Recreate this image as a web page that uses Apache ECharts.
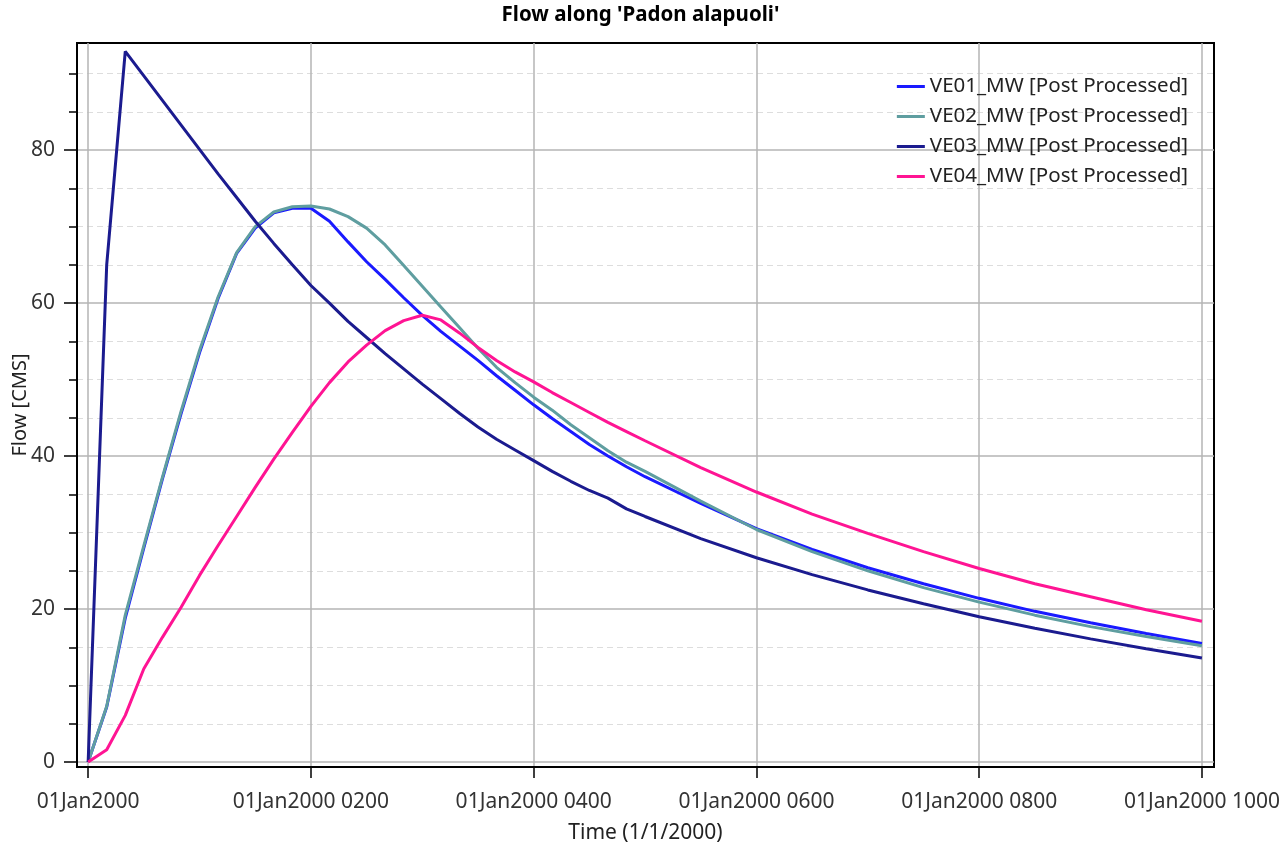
<!DOCTYPE html>
<html>
<head>
<meta charset="utf-8">
<title>Flow along 'Padon alapuoli'</title>
<script src="https://cdn.jsdelivr.net/npm/echarts@6/dist/echarts.min.js"></script>
<style>
    html, body {margin: 0; padding: 0; background: #fff;}
    #chartDiv {width: 1281px; height: 847px;}
</style>
</head>
<body>
<div id="chartDiv"></div>
<script>
// minutes after 01Jan2000 0000
var times = [0, 10, 20, 30, 40, 50, 60, 70, 80, 90, 100, 110, 120, 130, 140, 150, 160, 170, 180, 190,
    200, 210, 220, 230, 240, 250, 260, 270, 280, 290, 300, 330, 360, 390, 420, 450, 480, 510, 540, 570, 600];

var seriesNames = ["VE01_MW [Post Processed]", "VE02_MW [Post Processed]",
    "VE03_MW [Post Processed]", "VE04_MW [Post Processed]"];
var seriesColors = ["#1a1aff", "#5f9ea0", "#1b1b8f", "#ff1493"];

var ve01 = [0, 7.2, 18.8, 28.0, 37.0, 45.5, 53.5, 60.6, 66.5, 69.8, 71.8, 72.4, 72.4, 70.7, 68.0, 65.4, 63.1, 60.7, 58.4, 56.3,
    54.4, 52.5, 50.5, 48.6, 46.7, 44.9, 43.2, 41.5, 40.0, 38.6, 37.3, 33.8, 30.5, 27.8, 25.4, 23.3, 21.4, 19.7, 18.2, 16.8, 15.5];
var ve02 = [0, 7.3, 19.2, 28.3, 37.2, 45.8, 53.8, 60.8, 66.6, 70.0, 71.9, 72.6, 72.7, 72.3, 71.3, 69.8, 67.6, 64.9, 62.2, 59.5,
    56.8, 54.1, 51.6, 49.6, 47.7, 46.0, 44.1, 42.4, 40.7, 39.2, 38.0, 34.1, 30.4, 27.5, 25.0, 22.8, 20.9, 19.2, 17.7, 16.4, 15.2];
var ve03 = [0, 65.0, 92.9, 89.7, 86.5, 83.3, 80.1, 76.9, 73.8, 70.7, 67.8, 65.0, 62.3, 60.0, 57.6, 55.5, 53.4, 51.4, 49.4, 47.5,
    45.6, 43.8, 42.2, 40.8, 39.4, 38.0, 36.7, 35.5, 34.5, 33.1, 32.1, 29.2, 26.7, 24.5, 22.5, 20.7, 19.0, 17.5, 16.1, 14.8, 13.6];
var ve04 = [0, 1.6, 6.1, 12.2, 16.3, 20.2, 24.4, 28.3, 32.1, 35.9, 39.6, 43.1, 46.5, 49.6, 52.3, 54.5, 56.4, 57.7, 58.4, 57.8,
    56.1, 54.2, 52.5, 51.0, 49.7, 48.3, 47.0, 45.7, 44.4, 43.2, 42.0, 38.5, 35.3, 32.4, 29.9, 27.5, 25.3, 23.3, 21.6, 19.9, 18.4];

var xTicks = [0, 120, 240, 360, 480, 600];
var yTicks = [0, 20, 40, 60, 80];

function pad2(n) {
    return (n < 10 ? "0" : "") + n;
}

function timeLabel(value) {
    if (value === 0) {
        return "01Jan2000";
    }
    return "01Jan2000 " + pad2(Math.round(value / 60)) + "00";
}

function buildSeries() {
    var values = [ve01, ve02, ve03, ve04];
    var list = [];
    for (var i = 0; i < values.length; i++) {
        var data = [];
        for (var j = 0; j < times.length; j++) {
            data.push([times[j], values[i][j]]);
        }
        list.push({
            name: seriesNames[i],
            type: 'line',
            showSymbol: false,
            symbol: 'none',
            lineStyle: {width: 3, color: seriesColors[i]},
            itemStyle: {color: seriesColors[i]},
            data: data
        });
    }
    return list;
}

var font = 'Noto Sans';
var chart = echarts.init(document.getElementById("chartDiv"));

var option = {
    animation: false,
    backgroundColor: '#fff',
    title: {
        text: "Flow along 'Padon alapuoli'",
        left: 'center',
        top: 5,
        padding: 0,
        textStyle: {fontFamily: font, fontSize: 20.5, fontWeight: 'bold', color: '#000'}
    },
    legend: {
        orient: 'vertical',
        right: 93,
        top: 76,
        padding: 0,
        icon: 'rect',
        itemWidth: 28,
        itemHeight: 3,
        itemGap: 9,
        textStyle: {fontFamily: font, fontSize: 20.5, color: '#222', lineHeight: 20},
        data: seriesNames
    },
    grid: {
        left: 77,
        right: 67,
        top: 43,
        bottom: 80,
        show: true,
        borderColor: '#000',
        borderWidth: 2,
        containLabel: false,
        outerBoundsMode: 'none'
    },
    xAxis: {
        type: 'value',
        min: -6,
        max: 606.5,
        minInterval: 120,
        maxInterval: 120,
        name: 'Time (1/1/2000)',
        nameLocation: 'middle',
        nameGap: 56,
        nameTextStyle: {fontFamily: font, fontSize: 21, color: '#222'},
        axisLine: {show: true, onZero: false, lineStyle: {color: '#000', width: 2}},
        axisTick: {show: true, length: 11, customValues: xTicks, lineStyle: {color: '#000', width: 1.5}},
        axisLabel: {
            customValues: xTicks,
            margin: 25,
            fontFamily: font,
            fontSize: 21,
            color: '#333',
            formatter: timeLabel
        },
        splitLine: {show: true, lineStyle: {color: '#b4b4b4', width: 1.5}}
    },
    yAxis: {
        type: 'value',
        min: -0.65,
        max: 94,
        minInterval: 20,
        maxInterval: 20,
        name: 'Flow [CMS]',
        nameLocation: 'middle',
        nameRotate: 90,
        nameGap: 47,
        nameMoveOverlap: false,
        nameTextStyle: {fontFamily: font, fontSize: 20, color: '#222'},
        axisLine: {show: true, onZero: false, lineStyle: {color: '#000', width: 2}},
        axisTick: {show: true, length: 13, customValues: yTicks, lineStyle: {color: '#000', width: 1.5}},
        minorTick: {show: true, splitNumber: 4, length: 8, lineStyle: {color: '#000', width: 1.5}},
        axisLabel: {
            customValues: yTicks,
            margin: 22,
            fontFamily: font,
            fontSize: 21,
            color: '#333'
        },
        splitLine: {show: true, lineStyle: {color: '#b4b4b4', width: 1.5}},
        minorSplitLine: {show: true, lineStyle: {color: '#dddddd', width: 1.2, type: [6, 4]}}
    },
    series: buildSeries()
};

chart.setOption(option);
</script>
</body>
</html>
